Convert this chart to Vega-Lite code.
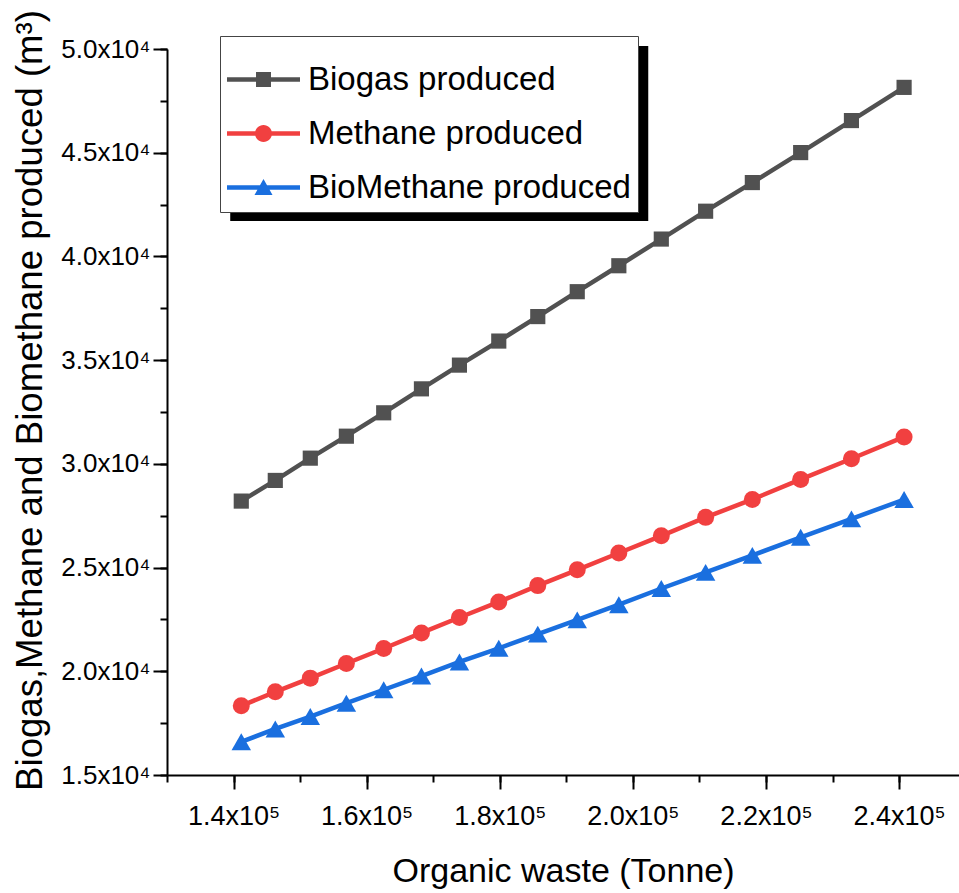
{
  "$schema": "https://vega.github.io/schema/vega-lite/v6.json",
  "width": 792,
  "height": 726,
  "autosize": {"type": "none"},
  "padding": {"left": 167, "top": 49, "right": 0, "bottom": 118},
  "background": "white",
  "config": {
    "view": {"stroke": null},
    "axis": {
      "grid": false,
      "domainColor": "#000",
      "tickColor": "#000",
      "labelColor": "#000",
      "titleColor": "#000",
      "labelFont": "Liberation Sans",
      "titleFont": "Liberation Sans",
      "titleFontWeight": "normal",
      "labelFlush": false,
      "labelOverlap": false
    }
  },
  "data": {
    "values": [
      {"series": "Biogas produced", "waste": 141160, "value": 28205},
      {"series": "Biogas produced", "waste": 146270, "value": 29201},
      {"series": "Biogas produced", "waste": 151530, "value": 30275},
      {"series": "Biogas produced", "waste": 156950, "value": 31334},
      {"series": "Biogas produced", "waste": 162560, "value": 32461},
      {"series": "Biogas produced", "waste": 168230, "value": 33616},
      {"series": "Biogas produced", "waste": 173940, "value": 34760},
      {"series": "Biogas produced", "waste": 179850, "value": 35920},
      {"series": "Biogas produced", "waste": 185710, "value": 37100},
      {"series": "Biogas produced", "waste": 191640, "value": 38300},
      {"series": "Biogas produced", "waste": 197890, "value": 39551},
      {"series": "Biogas produced", "waste": 204270, "value": 40837},
      {"series": "Biogas produced", "waste": 210930, "value": 42180},
      {"series": "Biogas produced", "waste": 217950, "value": 43561},
      {"series": "Biogas produced", "waste": 225210, "value": 45006},
      {"series": "Biogas produced", "waste": 232840, "value": 46550},
      {"series": "Biogas produced", "waste": 240750, "value": 48150},
      {"series": "Methane produced", "waste": 141160, "value": 18336},
      {"series": "Methane produced", "waste": 146270, "value": 19010},
      {"series": "Methane produced", "waste": 151530, "value": 19670},
      {"series": "Methane produced", "waste": 156950, "value": 20377},
      {"series": "Methane produced", "waste": 162560, "value": 21100},
      {"series": "Methane produced", "waste": 168230, "value": 21851},
      {"series": "Methane produced", "waste": 173940, "value": 22592},
      {"series": "Methane produced", "waste": 179850, "value": 23343},
      {"series": "Methane produced", "waste": 185710, "value": 24130},
      {"series": "Methane produced", "waste": 191640, "value": 24890},
      {"series": "Methane produced", "waste": 197890, "value": 25702},
      {"series": "Methane produced", "waste": 204270, "value": 26530},
      {"series": "Methane produced", "waste": 210930, "value": 27420},
      {"series": "Methane produced", "waste": 217950, "value": 28287},
      {"series": "Methane produced", "waste": 225210, "value": 29250},
      {"series": "Methane produced", "waste": 232840, "value": 30247},
      {"series": "Methane produced", "waste": 240750, "value": 31300},
      {"series": "BioMethane produced", "waste": 141160, "value": 16600},
      {"series": "BioMethane produced", "waste": 146270, "value": 17220},
      {"series": "BioMethane produced", "waste": 151530, "value": 17820},
      {"series": "BioMethane produced", "waste": 156950, "value": 18460},
      {"series": "BioMethane produced", "waste": 162560, "value": 19110},
      {"series": "BioMethane produced", "waste": 168230, "value": 19770},
      {"series": "BioMethane produced", "waste": 173940, "value": 20450},
      {"series": "BioMethane produced", "waste": 179850, "value": 21110},
      {"series": "BioMethane produced", "waste": 185710, "value": 21790},
      {"series": "BioMethane produced", "waste": 191640, "value": 22480},
      {"series": "BioMethane produced", "waste": 197890, "value": 23210},
      {"series": "BioMethane produced", "waste": 204270, "value": 23990},
      {"series": "BioMethane produced", "waste": 210930, "value": 24770},
      {"series": "BioMethane produced", "waste": 217950, "value": 25590},
      {"series": "BioMethane produced", "waste": 225210, "value": 26460},
      {"series": "BioMethane produced", "waste": 232840, "value": 27350},
      {"series": "BioMethane produced", "waste": 240750, "value": 28280}
    ]
  },
  "layer": [
    {
      "data": {"values": [{"shadow": 1}]},
      "mark": {"type": "rect", "color": "#000"},
      "encoding": {
        "x": {"datum": 139500, "type": "quantitative", "scale": {"domain": [130000, 249000], "nice": false, "zero": false}, "axis": null},
        "x2": {"datum": 202310},
        "y": {"datum": 50140, "type": "quantitative", "scale": {"domain": [15000, 50000], "nice": false, "zero": false}, "axis": null},
        "y2": {"datum": 41708}
      }
    },
    {
      "mark": {"type": "line", "strokeWidth": 4.5},
      "encoding": {
        "x": {
          "field": "waste", "type": "quantitative",
          "scale": {"domain": [130000, 249000], "nice": false, "zero": false},
          "axis": {"orient": "bottom", "values": [130000, 140000, 150000, 160000, 170000, 180000, 190000, 200000, 210000, 220000, 230000, 240000], "tickSize": 7, "tickWidth": 2, "labels": false, "domain": false, "title": null}
        },
        "y": {
          "field": "value", "type": "quantitative",
          "scale": {"domain": [15000, 50000], "nice": false, "zero": false},
          "axis": {"orient": "left", "values": [15000, 17500, 20000, 22500, 25000, 27500, 30000, 32500, 35000, 37500, 40000, 42500, 45000, 47500, 50000], "tickSize": 7, "tickWidth": 2, "labels": false, "domain": false, "title": null}
        },
        "color": {
          "field": "series", "type": "nominal",
          "scale": {"domain": ["Biogas produced", "Methane produced", "BioMethane produced"], "range": ["#515151", "#F14040", "#1A6FDF"]}
        }
      }
    },
    {
      "transform": [{"filter": "datum.series === 'Biogas produced'"}],
      "mark": {"type": "point", "shape": "square", "filled": true, "opacity": 1, "strokeWidth": 0, "size": 230},
      "encoding": {
        "x": {
          "field": "waste", "type": "quantitative",
          "axis": {"orient": "bottom", "values": [140000, 160000, 180000, 200000, 220000, 240000], "tickSize": 14, "tickWidth": 2, "domainWidth": 2, "labelFontSize": 27, "labelPadding": 14, "labelExpr": "format(datum.value / 100000, '.1f') + 'x10⁵'", "title": "Organic waste (Tonne)", "titleFontSize": 34, "titlePadding": 25}
        },
        "y": {
          "field": "value", "type": "quantitative",
          "axis": {"orient": "left", "values": [15000, 20000, 25000, 30000, 35000, 40000, 45000, 50000], "tickSize": 14, "tickWidth": 2, "domainWidth": 2, "labelFontSize": 26, "labelPadding": 3, "labelExpr": "format(datum.value / 10000, '.1f') + 'x10⁴'", "title": "Biogas,Methane and Biomethane produced (m³)", "titleFontSize": 36.6, "titlePadding": 11, "titleY": 351}
        },
        "color": {
          "field": "series", "type": "nominal",
          "legend": {
            "orient": "none", "legendX": 53, "legendY": -13, "title": null,
            "fillColor": "#ffffff", "strokeColor": "#444444", "padding": 7,
            "labelFont": "Liberation Sans", "labelFontSize": 33, "labelColor": "#000", "labelOffset": 8, "labelLimit": 500,
            "symbolSize": 1089, "rowPadding": -7, "symbolStrokeWidth": 0, "symbolOpacity": 1,
            "encode": {
              "symbols": {
                "update": {
                  "shape": {"signal": "datum.value === 'Biogas produced' ? 'M-1,-0.063H1V0.063H-1ZM-0.205,-0.205H0.205V0.205H-0.205Z' : datum.value === 'Methane produced' ? 'M-1,-0.063H1V0.063H-1ZM-0.233,0A0.233,0.233,0,1,1,0.233,0A0.233,0.233,0,1,1,-0.233,0Z' : 'M-1,-0.063H1V0.063H-1ZM0,-0.233L0.247,0.205L-0.247,0.205Z'"},
                  "size": {"value": 5329},
                  "x": {"value": 36.5},
                  "strokeWidth": {"value": 0},
                  "opacity": {"value": 1}
                }
              }
            }
          }
        }
      }
    },
    {
      "transform": [{"filter": "datum.series === 'Methane produced'"}],
      "mark": {"type": "point", "shape": "circle", "filled": true, "opacity": 1, "strokeWidth": 0, "size": 289},
      "encoding": {
        "x": {"field": "waste", "type": "quantitative", "axis": null},
        "y": {"field": "value", "type": "quantitative", "axis": null},
        "color": {"field": "series", "type": "nominal"}
      }
    },
    {
      "transform": [{"filter": "datum.series === 'BioMethane produced'"}],
      "mark": {"type": "point", "shape": "triangle-up", "filled": true, "opacity": 1, "strokeWidth": 0, "size": 380},
      "encoding": {
        "x": {"field": "waste", "type": "quantitative", "axis": null},
        "y": {"field": "value", "type": "quantitative", "axis": null},
        "color": {"field": "series", "type": "nominal"}
      }
    }
  ],
  "resolve": {"axis": {"x": "independent", "y": "independent"}}
}
